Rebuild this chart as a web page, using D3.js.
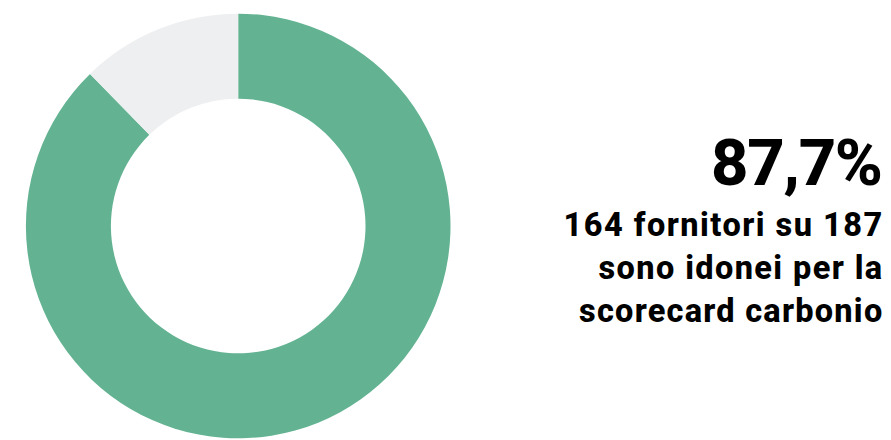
<!DOCTYPE html>
<html><head><meta charset="utf-8">
<script src="https://cdn.jsdelivr.net/npm/d3@7"></script>
<style>body{margin:0;background:#fff}svg{display:block}</style>
</head><body>
<script>
const categories = ["Idonei", "Non idonei"];
const values = [164, 23];
const colors = ["#63b393", "#eeeff1"];
const headline = "87,7%";
const caption = ["164 fornitori su 187", "sono idonei per la", "scorecard carbonio"];

const W = 891, H = 440;
const svg = d3.select("body").append("svg").attr("width", W).attr("height", H);
const g = svg.append("g").attr("transform", "translate(238.2,226)");
const pie = d3.pie().sort(null).value(d => d)(values);
const arc = d3.arc().innerRadius(127.3).outerRadius(212.3);
g.selectAll("path").data(pie).join("path")
  .attr("d", arc).attr("fill", (d, i) => colors[i]);

const font = "Roboto, 'Open Sans', sans-serif";
// fit text between left edge and right edge using letter spacing
function fitText(t, left, right, y, size, weight) {
  const el = svg.append("text").attr("x", left).attr("y", y)
    .attr("font-family", font).attr("font-weight", weight)
    .attr("font-size", size).attr("fill", "#000").text(t);
  const len = el.node().getComputedTextLength();
  const n = t.length;
  const ls = (right - left - len) / (n - 1);
  el.attr("letter-spacing", ls);
  return el;
}
fitText(headline, 711, 883, 185, 65, 800);
const lefts = [563.5, 598.5, 579];
const ys = [235.5, 278.5, 322.2];
caption.forEach((t, i) => fitText(t, lefts[i], 882.2, ys[i], 32.5, 800));
</script>
</body></html>
